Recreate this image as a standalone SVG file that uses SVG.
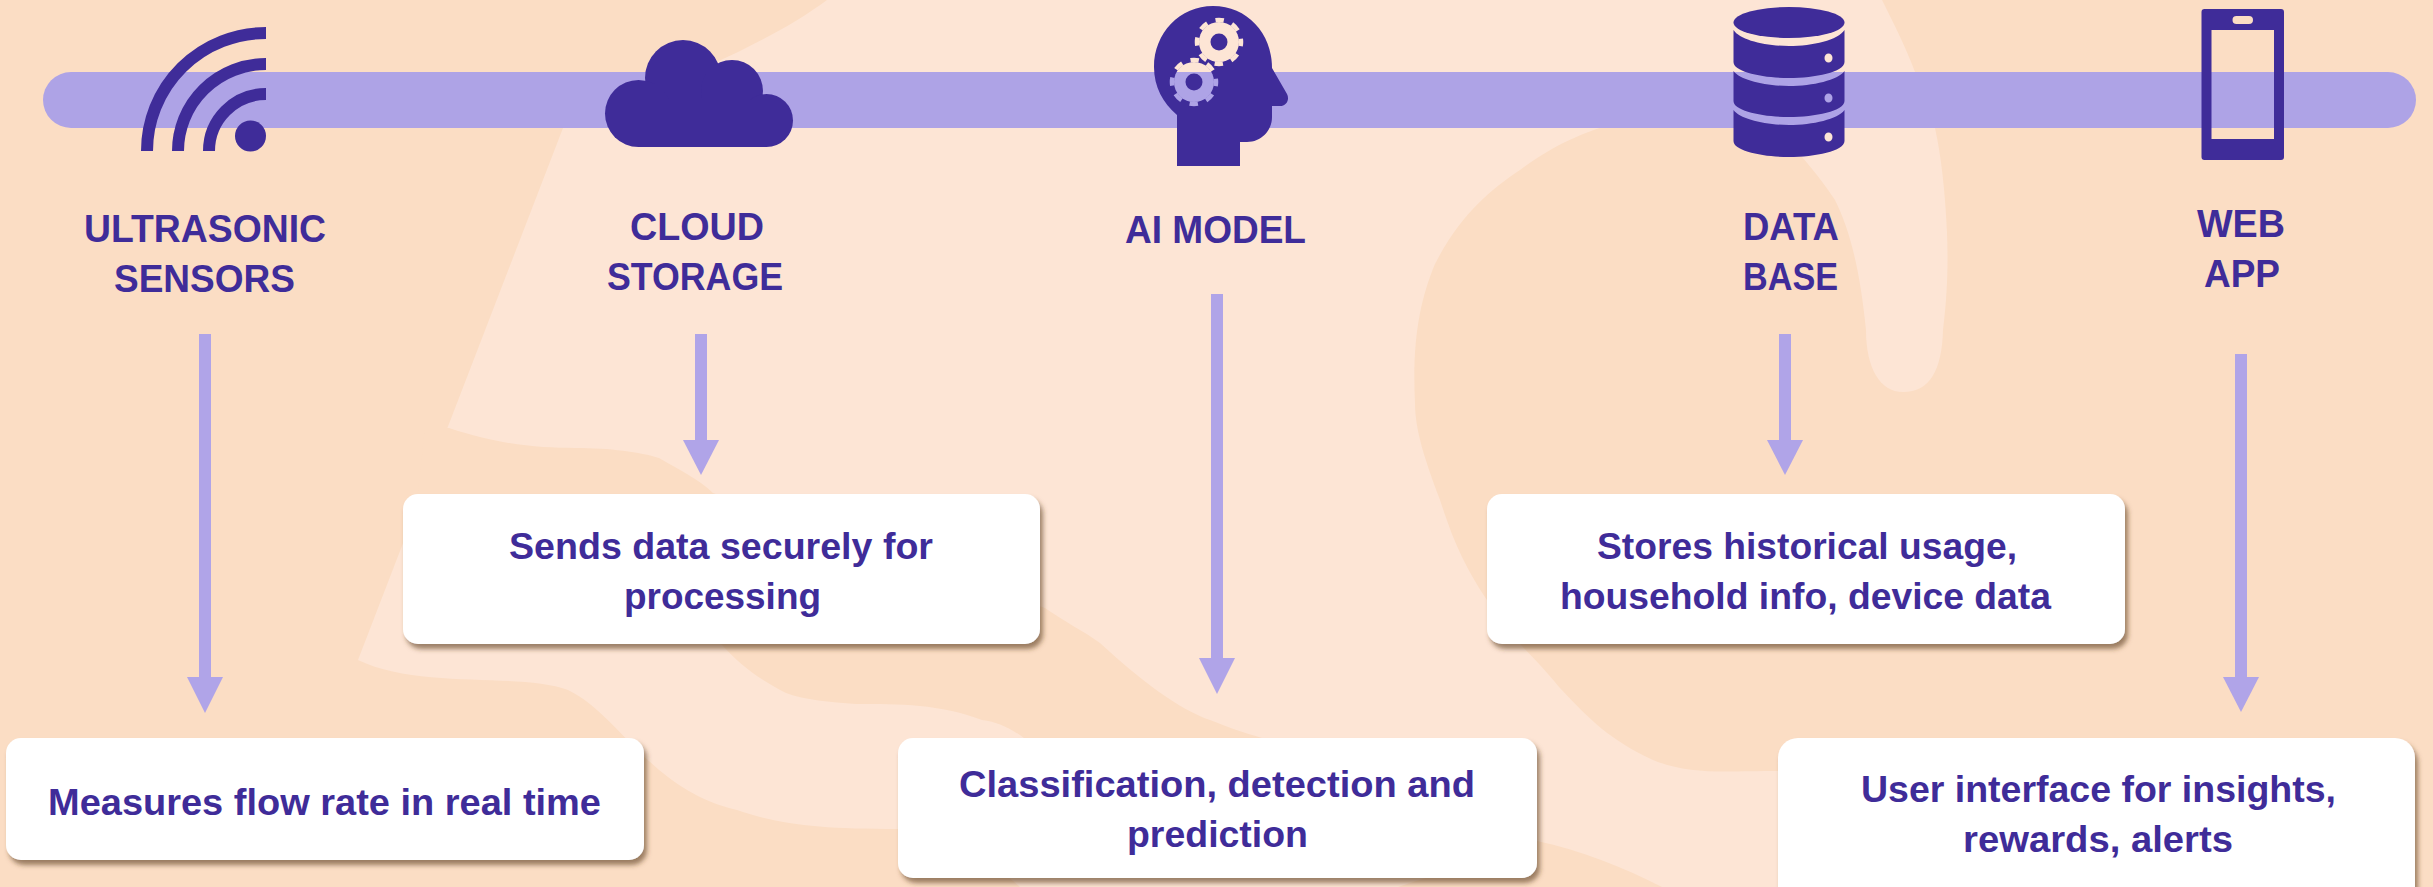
<svg xmlns="http://www.w3.org/2000/svg" width="2433" height="887" viewBox="0 0 2433 887">
<defs>
<style>
.ink{fill:#3f2c99}
.bar{fill:#aea3e6}
.lbl{font-family:"Liberation Sans",Arial,sans-serif;font-weight:700;font-size:38px;fill:#3f2c99}
.txt{font-family:"Liberation Sans",Arial,sans-serif;font-weight:700;font-size:37px;fill:#3f2c99}
.box{fill:#fff;filter:url(#sh)}
.line{stroke:#b0a4e8;stroke-width:12;fill:none}
.head{fill:#b0a4e8}
.wave{fill:none;stroke:#3f2c99;stroke-width:12}
</style>
<filter id="sh" x="-5%" y="-10%" width="112%" height="125%">
<feDropShadow dx="3" dy="5" stdDeviation="2.500" flood-color="#5a3a20" flood-opacity=".6"/>
</filter>
<mask id="brain" maskUnits="userSpaceOnUse" x="1140" y="0" width="160" height="175">
<rect x="1140" y="0" width="160" height="175" fill="#fff"/>
<g fill="#000" stroke="#000">
<circle cx="1219" cy="42" r="20" stroke="none"/>
<circle cx="1219" cy="42" r="22" fill="none" stroke-width="4.500" stroke-dasharray="8.500 8.780" stroke-dashoffset="4.250"/>
<circle cx="1194" cy="82" r="20" stroke="none"/>
<circle cx="1194" cy="82" r="22" fill="none" stroke-width="4.500" stroke-dasharray="8.500 8.780" stroke-dashoffset="4.250"/>
</g>
<circle cx="1219" cy="42" r="8.500" fill="#fff"/>
<circle cx="1194" cy="82" r="8.500" fill="#fff"/>
</mask>
</defs>

<g id="background">
<rect width="2433" height="887" fill="#fbddc4"/>
<path fill="#fde5d5" d="M827,0 C760,50 650,90 563,128 L358,660 C420,690 520,672 568,690 C620,715 650,790 737,810 C780,825 820,829 898,829 C950,835 990,860 1020,887 L1398,887 L1537,841 C1580,850 1625,868 1662,887 L1900,887 L1900,771 L1778,771 C1720,771 1690,775 1653,760 C1610,740 1590,720 1559,687 C1530,650 1500,630 1487,600 C1460,560 1450,530 1440,500 C1425,460 1415,430 1415,403 C1412,340 1420,300 1435,264 C1460,215 1490,190 1520,170 C1560,140 1600,125 1640,118 L1770,110 C1785,130 1795,145 1802,157 C1815,172 1825,185 1835,200 C1850,230 1860,270 1866,330 C1866,368 1880,392 1903,392 C1930,392 1942,370 1943,330 C1948,290 1948,260 1947,233 C1945,190 1941,155 1935,128 C1928,105 1922,90 1915,72 C1905,45 1892,20 1882,0 Z"/>
<path fill="#fbddc4" d="M449,428 C500,445 540,448 575,448 C610,448 640,452 659,458 C680,470 700,480 713,493 L1045,608 C1065,622 1085,632 1100,643 C1140,680 1180,710 1210,720 C1230,728 1245,733 1262,738 L1100,800 L1024,738 C1010,728 998,722 982,720 C940,704 900,704 856,704 C830,702 805,700 786,693 C760,680 740,665 722,645 L415,520 L425,428 Z"/>
</g>

<g id="timeline-bar">
<rect class="bar" x="43" y="72" width="2373" height="56" rx="28"/>
</g>

<g id="connectors">
<path class="line" d="M205,334V680"/><path class="head" d="M187,677H223L205,713Z"/>
<path class="line" d="M701,334V443"/><path class="head" d="M683,440H719L701,475Z"/>
<path class="line" d="M1217,294V661"/><path class="head" d="M1199,658H1235L1217,694Z"/>
<path class="line" d="M1785,334V443"/><path class="head" d="M1767,440H1803L1785,475Z"/>
<path class="line" d="M2241,354V680"/><path class="head" d="M2223,677H2259L2241,712Z"/>
</g>

<g id="ultrasonic-sensors">
<path class="wave" d="M147,151 A119,118 0 0 1 266,33"/>
<path class="wave" d="M178,151 A88,87 0 0 1 266,64"/>
<path class="wave" d="M209,151 A57,57 0 0 1 266,94"/>
<circle class="ink" cx="250.500" cy="136" r="15.500"/>
<text class="lbl" x="84" y="242" textLength="242" lengthAdjust="spacingAndGlyphs">ULTRASONIC</text>
<text class="lbl" x="114" y="292" textLength="181" lengthAdjust="spacingAndGlyphs">SENSORS</text>
<rect class="box" x="6" y="738" width="638" height="122" rx="15"/>
<text class="txt" x="48" y="815" textLength="553" lengthAdjust="spacingAndGlyphs">Measures flow rate in real time</text>
</g>

<g id="cloud-storage">
<g class="ink">
<circle cx="683" cy="78" r="38"/><circle cx="732" cy="91" r="31"/>
<circle cx="766.500" cy="120.500" r="26.500"/><circle cx="638.500" cy="113.500" r="33.500"/>
<rect x="638" y="100" width="128" height="47"/>
</g>
<text class="lbl" x="630" y="240" textLength="134" lengthAdjust="spacingAndGlyphs">CLOUD</text>
<text class="lbl" x="607" y="290" textLength="176" lengthAdjust="spacingAndGlyphs">STORAGE</text>
<rect class="box" x="403" y="494" width="637" height="150" rx="15"/>
<text class="txt" x="509" y="559" textLength="424" lengthAdjust="spacingAndGlyphs">Sends data securely for</text>
<text class="txt" x="624" y="609" textLength="197" lengthAdjust="spacingAndGlyphs">processing</text>
</g>

<g id="ai-model">
<path class="ink" mask="url(#brain)" d="M1177,166 V115 C1163,103 1154,87 1154,67 C1154,33 1180,6 1213,6 C1247,6 1272,33 1272,68 L1287,94 C1290,100 1286,106 1280,106 H1272 V117 C1272,131 1261,142 1247,142 H1240 V166 Z"/>
<text class="lbl" x="1125" y="243" textLength="181" lengthAdjust="spacingAndGlyphs">AI MODEL</text>
<rect class="box" x="898" y="738" width="639" height="140" rx="15"/>
<text class="txt" x="959" y="797" textLength="516" lengthAdjust="spacingAndGlyphs">Classification, detection and</text>
<text class="txt" x="1127" y="847" textLength="181" lengthAdjust="spacingAndGlyphs">prediction</text>
</g>

<g id="database">
<ellipse class="ink" cx="1789" cy="22.500" rx="55.500" ry="15.500"/>
<path class="ink" fill-rule="evenodd" d="M1733.500,30 C1740,40 1765,46 1789,46 S1838,40 1844.500,30 V62 C1844.500,72 1815,78 1789,78 S1733.500,72 1733.500,62 Z M1824.500,58 a4,4.500 0 1 0 8,0 a4,4.500 0 1 0 -8,0 Z"/>
<path class="ink" fill-rule="evenodd" d="M1733.500,71 C1740,80 1765,86 1789,86 S1838,80 1844.500,71 V101 C1844.500,111 1815,117 1789,117 S1733.500,111 1733.500,101 Z M1824.500,98 a4,4.500 0 1 0 8,0 a4,4.500 0 1 0 -8,0 Z"/>
<path class="ink" fill-rule="evenodd" d="M1733.500,110 C1740,119 1765,125 1789,125 S1838,119 1844.500,110 V141 C1844.500,151 1815,157 1789,157 S1733.500,151 1733.500,141 Z M1824.500,137 a4,4.500 0 1 0 8,0 a4,4.500 0 1 0 -8,0 Z"/>
<text class="lbl" x="1743" y="240" textLength="96" lengthAdjust="spacingAndGlyphs">DATA</text>
<text class="lbl" x="1743" y="290" textLength="95" lengthAdjust="spacingAndGlyphs">BASE</text>
<rect class="box" x="1487" y="494" width="638" height="150" rx="15"/>
<text class="txt" x="1597" y="559" textLength="420" lengthAdjust="spacingAndGlyphs">Stores historical usage,</text>
<text class="txt" x="1560" y="609" textLength="491" lengthAdjust="spacingAndGlyphs">household info, device data</text>
</g>

<g id="web-app">
<path class="ink" fill-rule="evenodd" d="M2204.500,9 H2281 a3,3 0 0 1 3,3 V157 a3,3 0 0 1 -3,3 H2204.500 a3,3 0 0 1 -3,-3 V12 a3,3 0 0 1 3,-3 Z M2211.500,30 V139 H2274 V30 Z M2236.500,16 a4,4 0 0 0 0,8 H2249 a4,4 0 0 0 0,-8 Z"/>
<text class="lbl" x="2197" y="237" textLength="88" lengthAdjust="spacingAndGlyphs">WEB</text>
<text class="lbl" x="2204" y="287" textLength="76" lengthAdjust="spacingAndGlyphs">APP</text>
<rect class="box" x="1778" y="738" width="637" height="170" rx="20"/>
<text class="txt" x="1861" y="802" textLength="475" lengthAdjust="spacingAndGlyphs">User interface for insights,</text>
<text class="txt" x="1963" y="852" textLength="270" lengthAdjust="spacingAndGlyphs">rewards, alerts</text>
</g>
</svg>
